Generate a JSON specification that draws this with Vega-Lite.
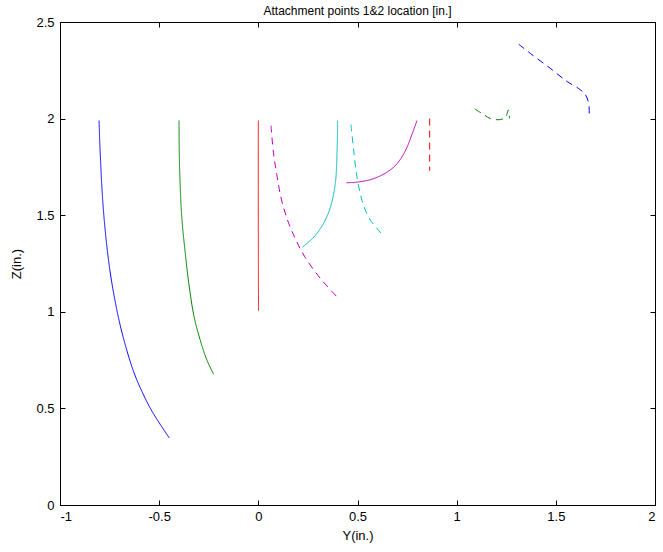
{
  "$schema": "https://vega.github.io/schema/vega-lite/v6.json",
  "width": 595,
  "height": 483,
  "autosize": "none",
  "padding": {"left": 60, "top": 22, "right": 8, "bottom": 47},
  "background": "white",
  "title": {"text": "Attachment points 1&2 location [in.]", "font": "Liberation Sans", "fontSize": 12, "fontWeight": "normal", "color": "black", "offset": -2},
  "config": {
    "view": {"stroke": "black", "strokeWidth": 1},
    "axis": {"grid": false, "domainColor": "black", "tickColor": "black", "labelColor": "black", "titleColor": "black", "labelFont": "Liberation Sans", "titleFont": "Liberation Sans", "labelFontSize": 13, "titleFontSize": 13, "titleFontWeight": "normal", "tickSize": -5, "format": "~g", "labelExpr": "replace(datum.label, '\u2212', '-')"}
  },
  "data": {"values": [
    {"s":"b1","i":0,"y":-0.803,"z":1.99},{"s":"b1","i":1,"y":-0.798,"z":1.838},{"s":"b1","i":2,"y":-0.782,"z":1.538},{"s":"b1","i":3,"y":-0.758,"z":1.289},{"s":"b1","i":4,"y":-0.734,"z":1.122},{"s":"b1","i":5,"y":-0.702,"z":0.955},{"s":"b1","i":6,"y":-0.669,"z":0.822},{"s":"b1","i":7,"y":-0.628,"z":0.688},{"s":"b1","i":8,"y":-0.587,"z":0.588},{"s":"b1","i":9,"y":-0.536,"z":0.485},{"s":"b1","i":10,"y":-0.449,"z":0.347},
    {"s":"g1","i":0,"y":-0.400,"z":1.99},{"s":"g1","i":1,"y":-0.397,"z":1.745},{"s":"g1","i":2,"y":-0.386,"z":1.489},{"s":"g1","i":3,"y":-0.370,"z":1.319},{"s":"g1","i":4,"y":-0.351,"z":1.150},{"s":"g1","i":5,"y":-0.324,"z":0.975},{"s":"g1","i":6,"y":-0.294,"z":0.857},{"s":"g1","i":7,"y":-0.260,"z":0.752},{"s":"g1","i":8,"y":-0.225,"z":0.676},
    {"s":"r1","i":0,"y":0.0,"z":1.99},{"s":"r1","i":1,"y":0.0,"z":1.4},{"s":"r1","i":2,"y":0.001,"z":1.005},
    {"s":"c1","i":0,"y":0.400,"z":1.99},{"s":"c1","i":1,"y":0.397,"z":1.833},{"s":"c1","i":2,"y":0.388,"z":1.663},{"s":"c1","i":3,"y":0.363,"z":1.540},{"s":"c1","i":4,"y":0.329,"z":1.458},{"s":"c1","i":5,"y":0.279,"z":1.386},{"s":"c1","i":6,"y":0.223,"z":1.335},
    {"s":"m1","i":0,"y":0.444,"z":1.668},{"s":"m1","i":1,"y":0.498,"z":1.671},{"s":"m1","i":2,"y":0.581,"z":1.689},{"s":"m1","i":3,"y":0.649,"z":1.723},{"s":"m1","i":4,"y":0.699,"z":1.766},{"s":"m1","i":5,"y":0.741,"z":1.833},{"s":"m1","i":6,"y":0.775,"z":1.919},{"s":"m1","i":7,"y":0.800,"z":1.99},
    {"s":"m2","i":0,"y":0.064,"z":1.964},{"s":"m2","i":1,"y":0.076,"z":1.825},{"s":"m2","i":2,"y":0.093,"z":1.710},{"s":"m2","i":3,"y":0.117,"z":1.579},{"s":"m2","i":4,"y":0.151,"z":1.464},{"s":"m2","i":5,"y":0.192,"z":1.366},{"s":"m2","i":6,"y":0.233,"z":1.287},{"s":"m2","i":7,"y":0.291,"z":1.201},{"s":"m2","i":8,"y":0.341,"z":1.139},{"s":"m2","i":9,"y":0.405,"z":1.068},
    {"s":"c2","i":0,"y":0.467,"z":1.97},{"s":"c2","i":1,"y":0.481,"z":1.833},{"s":"c2","i":2,"y":0.498,"z":1.694},{"s":"c2","i":3,"y":0.523,"z":1.576},{"s":"c2","i":4,"y":0.556,"z":1.489},{"s":"c2","i":5,"y":0.599,"z":1.430},{"s":"c2","i":6,"y":0.634,"z":1.392},
    {"s":"r2","i":0,"y":0.864,"z":2.0},{"s":"r2","i":1,"y":0.864,"z":1.73},
    {"s":"g2","i":0,"y":1.091,"z":2.05},{"s":"g2","i":1,"y":1.136,"z":2.021},{"s":"g2","i":2,"y":1.170,"z":2.0},{"s":"g2","i":3,"y":1.220,"z":1.995},{"s":"g2","i":4,"y":1.246,"z":2.007},{"s":"g2","i":5,"y":1.261,"z":2.045},{"s":"g2","i":6,"y":1.266,"z":2.0},
    {"s":"b2","i":0,"y":1.313,"z":2.385},{"s":"b2","i":1,"y":1.372,"z":2.337},{"s":"b2","i":2,"y":1.472,"z":2.260},{"s":"b2","i":3,"y":1.557,"z":2.192},{"s":"b2","i":4,"y":1.624,"z":2.149},{"s":"b2","i":5,"y":1.649,"z":2.124},{"s":"b2","i":6,"y":1.663,"z":2.089},{"s":"b2","i":7,"y":1.668,"z":2.055},{"s":"b2","i":8,"y":1.668,"z":2.02}
  ]},
  "layer": [
    {
      "mark": {"type": "line", "strokeWidth": 1, "interpolate": "catmull-rom"},
      "encoding": {
        "x": {"field": "y", "type": "quantitative", "scale": {"domain": [-1, 2], "nice": false, "zero": false}, "axis": {"title": "Y(in.)", "values": [-1, -0.5, 0, 0.5, 1, 1.5, 2], "labelPadding": 10, "titlePadding": 6}},
        "y": {"field": "z", "type": "quantitative", "scale": {"domain": [0, 2.5], "nice": false}, "axis": {"title": "Z(in.)", "values": [0, 0.5, 1, 1.5, 2, 2.5], "labelPadding": 11, "titlePadding": 12}},
        "color": {"field": "s", "type": "nominal", "legend": null, "scale": {"domain": ["b1","g1","r1","c1","m1","m2","c2","r2","g2","b2"], "range": ["#0000ff","#008000","#ff0000","#00bfbf","#bf00bf","#bf00bf","#00bfbf","#ff0000","#008000","#0000ff"]}},
        "strokeDash": {"field": "s", "type": "nominal", "legend": null, "scale": {"domain": ["b1","g1","r1","c1","m1","m2","c2","r2","g2","b2"], "range": [[1,0],[1,0],[1,0],[1,0],[1,0],[7,5],[7,5],[7,5],[7,5],[7,5]]}},
        "order": {"field": "i", "type": "quantitative"}
      }
    },
    {
      "mark": {"type": "point", "opacity": 0},
      "encoding": {
        "x": {"field": "y", "type": "quantitative", "scale": {"domain": [-1, 2], "nice": false, "zero": false}, "axis": {"orient": "top", "labels": false, "title": null, "values": [-1, -0.5, 0, 0.5, 1, 1.5, 2], "domain": false}},
        "y": {"field": "z", "type": "quantitative", "scale": {"domain": [0, 2.5], "nice": false}, "axis": {"orient": "right", "labels": false, "title": null, "values": [0, 0.5, 1, 1.5, 2, 2.5], "domain": false}}
      }
    }
  ],
  "resolve": {"axis": {"x": "independent", "y": "independent"}}
}
